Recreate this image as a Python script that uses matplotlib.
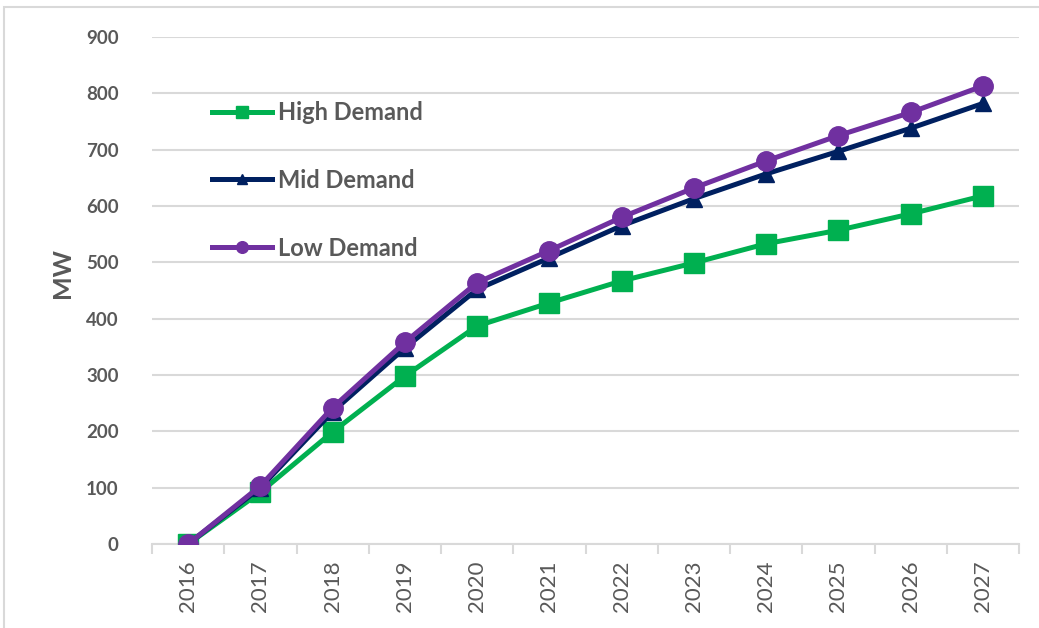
import matplotlib.pyplot as plt
from matplotlib.patches import Rectangle

years = [str(y) for y in range(2016, 2028)]
high_demand = [0, 92, 199, 298, 387, 428, 467, 499, 533, 557, 586, 618]
mid_demand = [0, 100, 235, 348, 452, 508, 565, 613, 657, 697, 738, 782]
low_demand = [0, 103, 242, 358, 464, 521, 580, 632, 680, 725, 766, 813]

GREEN = '#00B050'
NAVY = '#002060'
PURPLE = '#7030A0'
TXT = '#595959'
GRID = '#D9D9D9'

plt.rcParams['font.family'] = ['Lato', 'DejaVu Sans']

fig = plt.figure(figsize=(10.39, 6.28), dpi=100)
ax = fig.add_axes([152 / 1039, 1 - 544 / 628, 867 / 1039, 507 / 628])

x = list(range(len(years)))
ax.plot(x, high_demand, color=GREEN, lw=3.6, marker='s', ms=14, label='High Demand', zorder=3)
ax.plot(x, mid_demand, color=NAVY, lw=3.6, marker='^', ms=12, label='Mid Demand', zorder=4)
ax.plot(x, low_demand, color=PURPLE, lw=3.6, marker='o', ms=14, label='Low Demand', zorder=5)

ax.set_xlim(-0.5, len(years) - 0.5)
ax.set_ylim(0, 900)
ax.set_yticks(range(0, 901, 100))
ax.yaxis.grid(True, color=GRID, lw=1.5)
ax.set_axisbelow(True)

for s in ['top', 'right', 'left']:
    ax.spines[s].set_visible(False)
ax.spines['bottom'].set_color(GRID)
ax.spines['bottom'].set_linewidth(1.5)

# tick marks between categories, labels centred on them
ax.set_xticks([i + 0.5 for i in range(-1, len(years))], minor=False)
ax.set_xticklabels([])
ax.set_xticks(x, minor=True)
ax.set_xticklabels(years, minor=True, rotation=90, fontsize=16, color=TXT)
ax.tick_params(axis='x', which='major', length=7, width=1.5, color=GRID)
ax.tick_params(axis='x', which='minor', length=0, pad=12)
ax.tick_params(axis='y', length=0, pad=24, labelsize=13.5, labelcolor=TXT)
for lab in ax.get_yticklabels():
    lab.set_fontweight('bold')

ax.set_ylabel('MW', fontsize=18, fontweight='bold', color=TXT)
ax.yaxis.set_label_coords(-0.09, 0.535)

leg = ax.legend(loc='upper left', bbox_to_anchor=(0.069, 0.874), frameon=False,
                handlelength=2.55, handletextpad=0.25, labelspacing=1.9,
                markerscale=0.6, borderpad=0, borderaxespad=0,
                prop={'size': 17, 'weight': 'bold'})
for t in leg.get_texts():
    t.set_color(TXT)

# outer chart frame
fig.patches.append(Rectangle((4 / 1039, -0.05), 1.1, 1 - 7 / 628 + 0.05,
                             transform=fig.transFigure, fill=False,
                             edgecolor='#D9D9D9', lw=1.5))

fig.savefig('out.png', dpi=100)
